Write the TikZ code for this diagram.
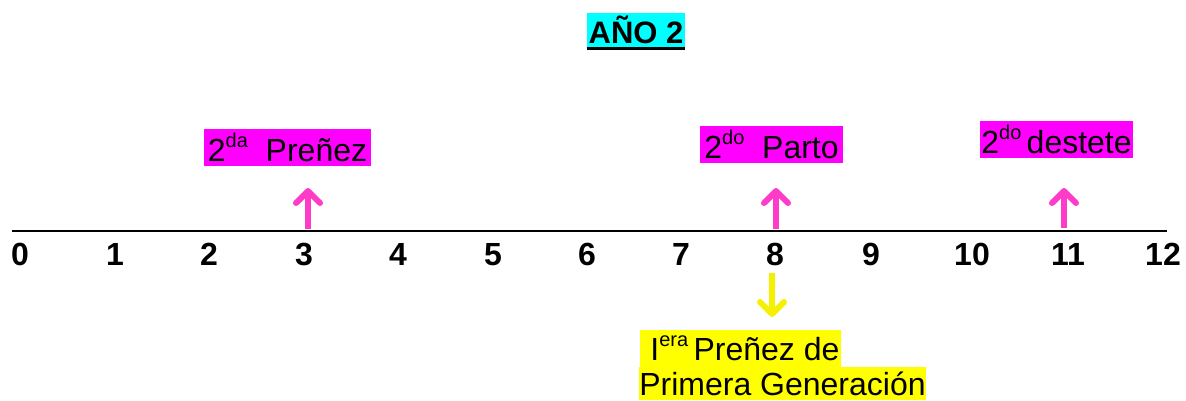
\documentclass[tikz,border=0pt]{standalone}
\usepackage{fontspec}
\setmainfont{Liberation Sans}
\usetikzlibrary{arrows.meta}
\definecolor{hlmag}{RGB}{255,0,255}
\definecolor{hlcyan}{RGB}{0,255,255}
\definecolor{hlyel}{RGB}{255,255,0}
\definecolor{arrpink}{RGB}{255,60,200}
\definecolor{arryel}{RGB}{245,240,0}
\newcommand\supx[1]{\raisebox{14pt}{\fontsize{20}{20}\selectfont #1}}
\begin{document}
\begin{tikzpicture}[x=1pt,y=-1pt,
  hl/.style={inner sep=0pt, anchor=center, font=\fontsize{32}{36}\selectfont},
  num/.style={anchor=base, font=\fontsize{32}{34}\selectfont\bfseries},
  uparr/.style={draw=arrpink, line width=6pt,
    -{Straight Barb[length=12pt,width=24pt,round]}},
  dnarr/.style={draw=arryel, line width=6pt,
    -{Straight Barb[length=12pt,width=24pt,round]}}]
\useasboundingbox (0,0) rectangle (1186,400);

% title
\node[hl, fill=hlcyan, minimum width=98pt, minimum height=34pt,
      font=\fontsize{31}{32}\selectfont\bfseries] (title) at (636,30) {AÑO 2};
\draw[line width=3pt] ([yshift=-1.5pt]title.south west) -- ([yshift=-1.5pt]title.south east);

% timeline
\coordinate (L0) at (12,231);
\coordinate (L1) at (1167,231);
\draw[line width=1.5pt] (L0) -- (L1);

\foreach \x/\n in {20/0,115/1,209/2,304/3,398/4,493/5,587/6,681/7,775/8,871/9,972/10,1068/11,1163/12}
  \node[num] (n\n) at (\x,265) {\n};

% labels
\node[hl, fill=hlmag, minimum width=167pt, minimum height=37pt] (p1) at (287.5,147.5)
  {2\supx{da}\ \ Preñez};
\node[hl, fill=hlmag, minimum width=143pt, minimum height=37pt] (p2) at (771.5,144.5)
  {2\supx{do}\ \ Parto};
\node[hl, fill=hlmag, minimum width=153pt, minimum height=37pt] (p3) at (1056.5,139.5)
  {2\supx{do}\,destete};

\node[hl, fill=hlyel, minimum width=201pt, minimum height=37pt] (y1) at (740.5,348.5)
  {\ I\supx{era}\,Preñez de};
\node[hl, fill=hlyel, minimum width=285pt, minimum height=33pt] (y2) at (782.5,383.5)
  {Primera Generación};

% arrows
\coordinate (a1s) at (308,229); \coordinate (a1e) at (308,188);
\coordinate (a2s) at (776,229); \coordinate (a2e) at (776,188);
\coordinate (a3s) at (1064,228); \coordinate (a3e) at (1064,188);
\coordinate (b1s) at (772,273); \coordinate (b1e) at (772,317);
\draw[uparr] (a1s) -- (a1e);
\draw[uparr] (a2s) -- (a2e);
\draw[uparr] (a3s) -- (a3e);
\draw[dnarr] (b1s) -- (b1e);
\end{tikzpicture}
\end{document}
